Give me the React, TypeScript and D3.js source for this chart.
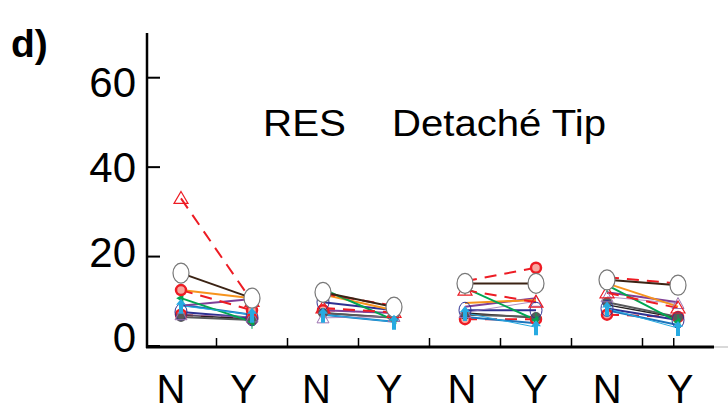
import React from "react";
import * as d3 from "d3";

const xLabels = ["N", "Y", "N", "Y", "N", "Y", "N", "Y"];
const yTicks = [0, 20, 40, 60];
const titles = ["RES", "Detaché Tip"];

// values per series: [g1 N, g1 Y, g2 N, g2 Y, g3 N, g3 Y, g4 N, g4 Y]
const openCircle = [16.3, 10.7, 12, 8.7, 14, 14, 14.8, 13.6];
const redTriangle = [33, 10, 8.5, 7.5, 12.5, 9.8, 11.9, 8.5];
const redCircleA = [12.5, 8, 11.7, 9, 14.5, 17.5, 15.4, 14];
const redCircleB = [7, 6, 8, 7.5, 6, 6, 7, 6.5];
const orange = [12.5, 10.7, 11.5, 8, 9.6, 10.3, 14, 8.8];
const purple = [9, 10.5, 8, 7.4, 8.8, 10.7, 12, 9.8];
const purpleTri = [7, 6.5, 6.3, 6.6, 7.5, 10, 11, 9.5];
const green = [10.7, 5.4, 12.7, 5.8, 13, 5.8, 13.6, 5.4];
const blue = [9.2, 7, 7, 5.4, 6.5, 5.1, 8, 4.7];
const navy = [7.6, 6.3, 9.8, 8, 8, 8, 8.4, 5.8];
const gray = [6.5, 5.8, 7.4, 6.3, 7, 6.5, 9.8, 6.5];
const black = [7, 6, 7.4, 6.3, 7.4, 6.3, 9.2, 6.3];
const lightBlue = [9, 7, 7, 5.4, 7.4, 4.2, 8.4, 4];

type Series = { v: number[]; color: string; dash?: string; width: number; marker: string; mcolor: string };

const series: Series[] = [
  { v: redCircleB, color: "#ed1c24", dash: "12,8", width: 2, marker: "redring", mcolor: "#ed1c24" },
  { v: black, color: "#231f20", width: 1.5, marker: "none", mcolor: "#231f20" },
  { v: gray, color: "#58595b", width: 2, marker: "graydot", mcolor: "#58595b" },
  { v: navy, color: "#2e3192", width: 2, marker: "navyring", mcolor: "#2e3192" },
  { v: blue, color: "#1c75bc", width: 2, marker: "none", mcolor: "#1c75bc" },
  { v: purple, color: "#7f3f98", width: 2, marker: "none", mcolor: "#7f3f98" },
  { v: purpleTri, color: "#9b72b0", width: 0.8, marker: "purpletri", mcolor: "#9b72b0" },
  { v: orange, color: "#f7941d", width: 2, marker: "none", mcolor: "#f7941d" },
  { v: green, color: "#00a651", width: 2, marker: "greenstar", mcolor: "#00a651" },
  { v: redTriangle, color: "#ed1c24", dash: "12,8", width: 2, marker: "redtri", mcolor: "#ed1c24" },
  { v: redCircleA, color: "#ed1c24", dash: "12,8", width: 2, marker: "redring", mcolor: "#ed1c24" },
  { v: openCircle, color: "#3b2314", width: 2, marker: "opencircle", mcolor: "#777" },
  { v: lightBlue, color: "#27aae1", width: 1, marker: "arrow", mcolor: "#27aae1" },
];

const W = 728;
const H = 417;

export default function App() {
  const y = d3.scaleLinear().domain([0, 70]).range([346, 33]);
  const yLab = d3.scaleLinear().domain([0, 60]).range([352, 97]);
  const x = d3.scaleLinear().domain([0, 7]).range([181, 678]);
  const xLab = d3.scaleLinear().domain([0, 7]).range([171, 680]);
  const midTicks = d3.range(0.5, 7, 1).concat([6.94]);
  const line = d3
    .line<number>()
    .x((_, i) => x(i))
    .y((d) => y(d));

  const marker = (s: Series, val: number, i: number, key: string) => {
    const cx = x(i);
    const cy = y(val);
    switch (s.marker) {
      case "opencircle":
        return <ellipse key={key} cx={cx} cy={cy} rx={8} ry={10} fill="#fff" stroke="#777" strokeWidth={1.2} />;
      case "redring":
        return <circle key={key} cx={cx} cy={cy} r={5} fill="#f7a8a0" stroke="#ed1c24" strokeWidth={2.5} />;
      case "redtri": {
        const p = d3.path();
        p.moveTo(cx, cy - 7);
        p.lineTo(cx + 7, cy + 5);
        p.lineTo(cx - 7, cy + 5);
        p.closePath();
        return <path key={key} d={p.toString()} fill="none" stroke="#ed1c24" strokeWidth={1.2} />;
      }
      case "purpletri": {
        const p = d3.path();
        p.moveTo(cx, cy - 6);
        p.lineTo(cx + 6, cy + 5);
        p.lineTo(cx - 6, cy + 5);
        p.closePath();
        return <path key={key} d={p.toString()} fill="none" stroke="#9b72b0" strokeWidth={1} />;
      }
      case "graydot":
        return <circle key={key} cx={cx} cy={cy} r={5} fill="#58595b" />;
      case "navyring":
        return <ellipse key={key} cx={cx} cy={cy} rx={6} ry={8} fill="none" stroke="#2e3192" strokeWidth={1} />;
      case "greenstar":
        return (
          <g key={key}>
            <line x1={cx} y1={cy - 7} x2={cx} y2={cy + 7} stroke="#00a651" strokeWidth={1} />
            <path d={d3.symbol(d3.symbolTriangle, 30)() || ""} transform={`translate(${cx},${cy}) rotate(-90)`} fill="#00a651" />
          </g>
        );
      case "arrow": {
        const p = d3.path();
        p.moveTo(cx, cy - 7);
        p.lineTo(cx + 5, cy - 1);
        p.lineTo(cx + 2, cy - 1);
        p.lineTo(cx + 2, cy + 8);
        p.lineTo(cx - 2, cy + 8);
        p.lineTo(cx - 2, cy - 1);
        p.lineTo(cx - 5, cy - 1);
        p.closePath();
        return <path key={key} d={p.toString()} fill="#27aae1" />;
      }
      default:
        return null;
    }
  };

  return (
    <svg width={W} height={H} style={{ position: "absolute", left: 0, top: 0 }} fontFamily="Liberation Sans, Arial, sans-serif">
      <rect width={W} height={H} fill="#fff" />
      <text x={11} y={57} fontSize={39} fontWeight="bold">d)</text>

      {/* y axis */}
      <line x1={147} x2={147} y1={y(70)} y2={348} stroke="#000" strokeWidth={2.5} />
      {yTicks.map((t) => (
        <g key={t}>
          <line x1={147} x2={160} y1={y(t)} y2={y(t)} stroke="#000" strokeWidth={2} />
          <text x={136} y={yLab(t)} fontSize={42} textAnchor="end">{t}</text>
        </g>
      ))}

      {/* x axis */}
      <line x1={146} x2={714} y1={347} y2={347} stroke="#000" strokeWidth={3} />
      <line x1={714} x2={728} y1={347} y2={347} stroke="#ccc" strokeWidth={1.5} />
      {midTicks.map((t) => (
        <line key={t} x1={x(t)} x2={x(t)} y1={338} y2={346} stroke="#000" strokeWidth={1.5} />
      ))}
      {xLabels.map((l, i) => (
        <text key={i} x={xLab(i)} y={403} fontSize={40} textAnchor="middle">{l}</text>
      ))}

      <text x={263} y={136} fontSize={37} textLength={83} lengthAdjust="spacingAndGlyphs">{titles[0]}</text>
      <text x={392} y={136} fontSize={37} textLength={214} lengthAdjust="spacingAndGlyphs">{titles[1]}</text>

      {/* lines */}
      {series.map((s, si) =>
        d3.range(4).map((g) => (
          <path
            key={`l${si}-${g}`}
            d={line.x((_, i) => x(g * 2 + i))(s.v.slice(g * 2, g * 2 + 2)) || ""}
            fill="none"
            stroke={s.color}
            strokeWidth={s.width}
            strokeDasharray={s.dash}
          />
        ))
      )}
      {/* markers */}
      {series.map((s, si) => s.v.map((val, i) => marker(s, val, i, `m${si}-${i}`)))}
    </svg>
  );
}
